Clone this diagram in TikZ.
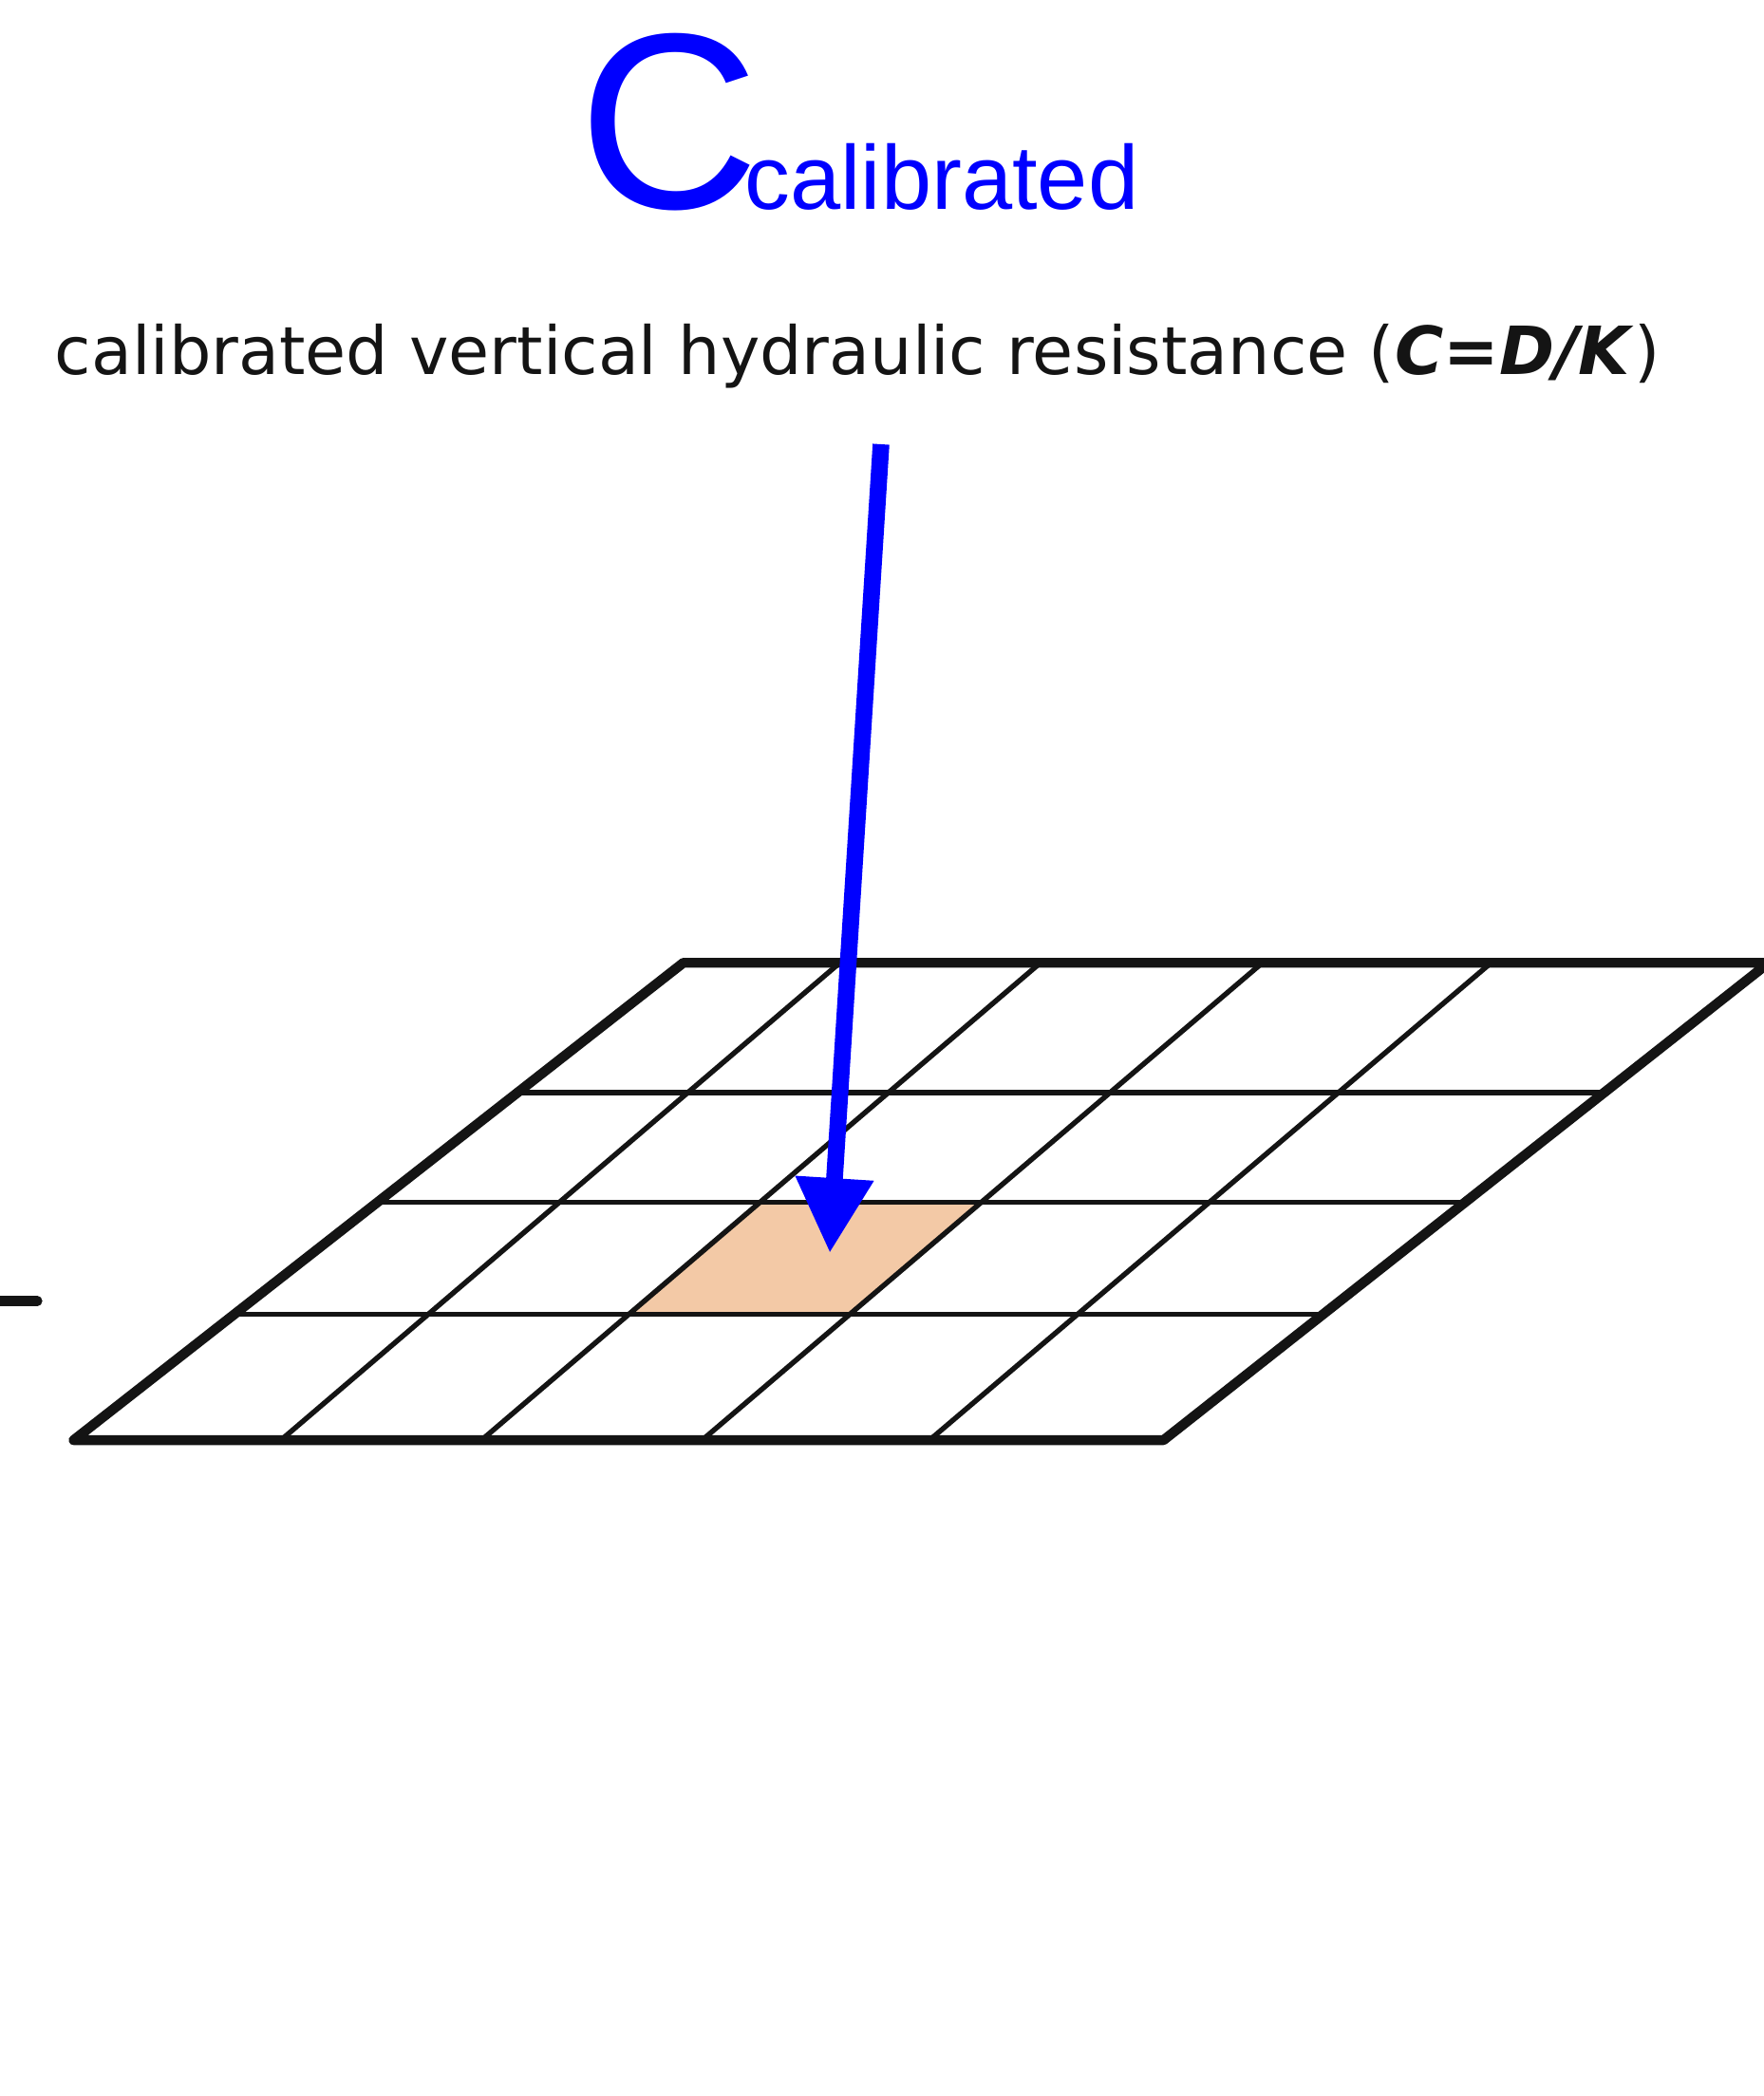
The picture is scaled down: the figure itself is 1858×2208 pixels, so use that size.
\documentclass[tikz,border=0pt]{standalone}
\usepackage{fontspec}
\setmainfont{DejaVu Sans}
\newfontfamily\arialf{Liberation Sans}
\usetikzlibrary{arrows.meta,calc}
\definecolor{titleblue}{RGB}{0,0,255}
\definecolor{cellfill}{RGB}{243,201,166}
\definecolor{ink}{RGB}{20,20,20}
\begin{document}
\begin{tikzpicture}[x=0.25pt,y=-0.25pt,
  outerline/.style={draw=ink,line width=2.6pt,line join=round,line cap=round},
  innerline/.style={draw=ink,line width=1.35pt},
  txt/.style={inner sep=0pt,anchor=base west},
  bluearrow/.style={draw=titleblue,line width=4.4pt,-{Triangle[length=19.75pt,width=19.5pt]}}]
\useasboundingbox (0,0) rectangle (1858,2208);
% title
\node[txt,text=titleblue] (bigC) at (609,219) {\arialf\fontsize{66pt}{72pt}\selectfont C};
\node[txt,text=titleblue] (sub) at (784,220) {\arialf\fontsize{23.9pt}{28pt}\selectfont calibrated};
% description
\node[txt,text=ink] (desc) at (57,394) {\fontsize{17.5pt}{20pt}\selectfont calibrated vertical hydraulic resistance (\textbf{\textit{C=D/K}})};
% grid corners
\coordinate (TL) at (719.8,1014.2);
\coordinate (TR) at (1863,1014.2);
\coordinate (BR) at (1225.5,1517.1);
\coordinate (BL) at (77.5,1517.1);
% diagonals
\coordinate (d1t) at (884.6,1014.2);  \coordinate (d1b) at (295.8,1517.1);
\coordinate (d2t) at (1095.9,1014.2); \coordinate (d2b) at (507.1,1517.1);
\coordinate (d3t) at (1329.7,1014.2); \coordinate (d3b) at (739.5,1517.1);
\coordinate (d4t) at (1570.6,1014.2); \coordinate (d4b) at (979.0,1517.1);
% row ends
\coordinate (r1l) at ($(TL)!0.2716!(BL)$); \coordinate (r1r) at ($(TR)!0.2716!(BR)$);
\coordinate (r2l) at ($(TL)!0.5013!(BL)$); \coordinate (r2r) at ($(TR)!0.5013!(BR)$);
\coordinate (r3l) at ($(TL)!0.7365!(BL)$); \coordinate (r3r) at ($(TR)!0.7365!(BR)$);
% shaded cell
\fill[cellfill] ($(d2t)!0.5013!(d2b)$) -- ($(d3t)!0.5013!(d3b)$) -- ($(d3t)!0.7365!(d3b)$) -- ($(d2t)!0.7365!(d2b)$) -- cycle;
% inner lines
\draw[innerline] (r1l) -- (r1r);
\draw[innerline] (r2l) -- (r2r);
\draw[innerline] (r3l) -- (r3r);
\draw[innerline] (d1t) -- (d1b);
\draw[innerline] (d2t) -- (d2b);
\draw[innerline] (d3t) -- (d3b);
\draw[innerline] (d4t) -- (d4b);
% outer frame
\draw[outerline] (TL) -- (TR) -- (BR) -- (BL) -- cycle;
% short left mark
\coordinate (m1) at (0,1370.6);
\coordinate (m2) at (39.4,1370.6);
\draw[draw=ink,line width=2.6pt,line cap=round] (m1) -- (m2);
% arrow
\coordinate (astart) at (928,468);
\coordinate (atip) at (874,1320);
\draw[bluearrow] (astart) -- (atip);
\end{tikzpicture}
\end{document}
